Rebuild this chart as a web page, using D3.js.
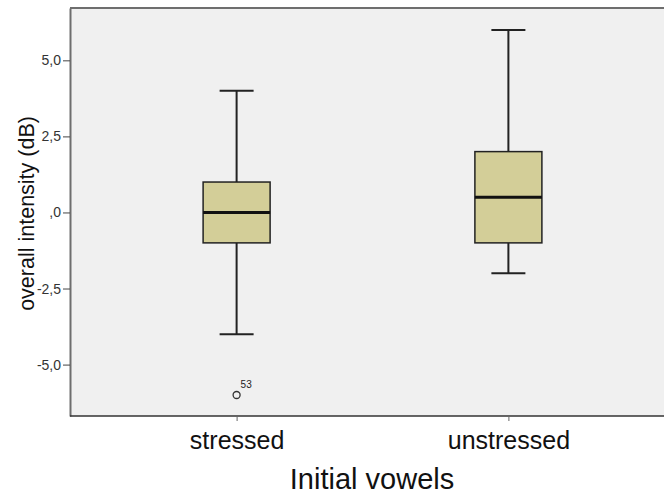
<!DOCTYPE html>
<html>
<head>
<meta charset="utf-8">
<script src="https://cdn.jsdelivr.net/npm/d3@7"></script>
<style>
  body { margin: 0; background: #fff; }
  svg { display: block; font-family: "Liberation Sans", Arial, sans-serif; }
</style>
</head>
<body>
<div id="chart"></div>
<script>
// boxplot summaries
var categories = ["stressed", "unstressed"];
var whiskerLow = [-4, -2];
var q1 = [-1, -1];
var median = [0, 0.5];
var q3 = [1, 2];
var whiskerHigh = [4, 6];
var outliers = [{ cat: "stressed", value: -6, label: "53" }];
var yTicks = [-5, -2.5, 0, 2.5, 5];
var yTickLabels = ["-5,0", "-2,5", ",0", "2,5", "5,0"];

var width = 664, height = 494;
var margin = { top: 8, left: 70, bottom: 78 };
var plotRight = 675; // plot box runs past the window edge

var svg = d3.select("#chart").append("svg")
    .attr("width", width)
    .attr("height", height);

var x = d3.scalePoint()
    .domain(categories)
    .range([margin.left, plotRight])
    .padding(0.613);

var y = d3.scaleLinear()
    .domain([-6.69, 6.72])
    .range([height - margin.bottom, margin.top]);

// plot background
svg.append("rect")
    .attr("x", margin.left)
    .attr("y", margin.top)
    .attr("width", plotRight - margin.left)
    .attr("height", (height - margin.bottom) - margin.top)
    .attr("fill", "#f0f0f0");

// top border
svg.append("line")
    .attr("x1", margin.left).attr("x2", plotRight)
    .attr("y1", margin.top).attr("y2", margin.top)
    .attr("stroke", "#6e6e6e").attr("stroke-width", 2);

// y axis
var yAxis = svg.append("g")
    .attr("transform", `translate(${margin.left},0)`)
    .call(d3.axisLeft(y).tickValues(yTicks).tickSize(7).tickSizeOuter(0).tickPadding(2)
        .tickFormat((d, i) => yTickLabels[i]));
yAxis.select(".domain").attr("stroke", "#6e6e6e").attr("stroke-width", 2);
yAxis.selectAll(".tick line").attr("stroke", "#444");
yAxis.selectAll("text").style("font-size", "14px").attr("fill", "#333");

// x axis
var xAxis = svg.append("g")
    .attr("transform", `translate(0,${height - margin.bottom})`)
    .call(d3.axisBottom(x).tickSize(5).tickSizeOuter(0).tickPadding(10));
xAxis.select(".domain").attr("d", `M${margin.left},0H${plotRight}`)
    .attr("stroke", "#333").attr("stroke-width", 1.5);
xAxis.selectAll(".tick line").attr("stroke", "#666");
xAxis.selectAll("text").style("font-size", "25px").attr("fill", "#111");

// axis titles
svg.append("text")
    .attr("x", 372)
    .attr("y", 489)
    .attr("text-anchor", "middle")
    .style("font-size", "29px")
    .attr("fill", "#111")
    .text("Initial vowels");

svg.append("text")
    .attr("transform", `translate(34,${y(0) + 1}) rotate(-90)`)
    .attr("text-anchor", "middle")
    .style("font-size", "21.5px")
    .attr("fill", "#111")
    .text("overall intensity (dB)");

var boxW = 67, capW = 34;

categories.forEach(function (c, i) {
    var cx = x(c);
    // whiskers
    svg.append("line")
        .attr("x1", cx).attr("x2", cx)
        .attr("y1", y(whiskerHigh[i])).attr("y2", y(q3[i]))
        .attr("stroke", "#222").attr("stroke-width", 2);
    svg.append("line")
        .attr("x1", cx).attr("x2", cx)
        .attr("y1", y(q1[i])).attr("y2", y(whiskerLow[i]))
        .attr("stroke", "#222").attr("stroke-width", 2);
    [whiskerHigh[i], whiskerLow[i]].forEach(function (v) {
        svg.append("line")
            .attr("x1", cx - capW / 2).attr("x2", cx + capW / 2)
            .attr("y1", y(v)).attr("y2", y(v))
            .attr("stroke", "#222").attr("stroke-width", 2);
    });
    // box
    svg.append("rect")
        .attr("x", cx - boxW / 2)
        .attr("y", y(q3[i]))
        .attr("width", boxW)
        .attr("height", y(q1[i]) - y(q3[i]))
        .attr("fill", "#d3ce98")
        .attr("stroke", "#222")
        .attr("stroke-width", 1.5);
    // median
    svg.append("line")
        .attr("x1", cx - boxW / 2).attr("x2", cx + boxW / 2)
        .attr("y1", y(median[i])).attr("y2", y(median[i]))
        .attr("stroke", "#111").attr("stroke-width", 3);
});

// outliers
outliers.forEach(function (o) {
    svg.append("circle")
        .attr("cx", x(o.cat))
        .attr("cy", y(o.value))
        .attr("r", 3.5)
        .attr("fill", "none")
        .attr("stroke", "#333")
        .attr("stroke-width", 1.3);
    svg.append("text")
        .attr("x", x(o.cat) + 4)
        .attr("y", y(o.value) - 7)
        .style("font-size", "10px")
        .attr("fill", "#222")
        .text(o.label);
});
</script>
</body>
</html>
